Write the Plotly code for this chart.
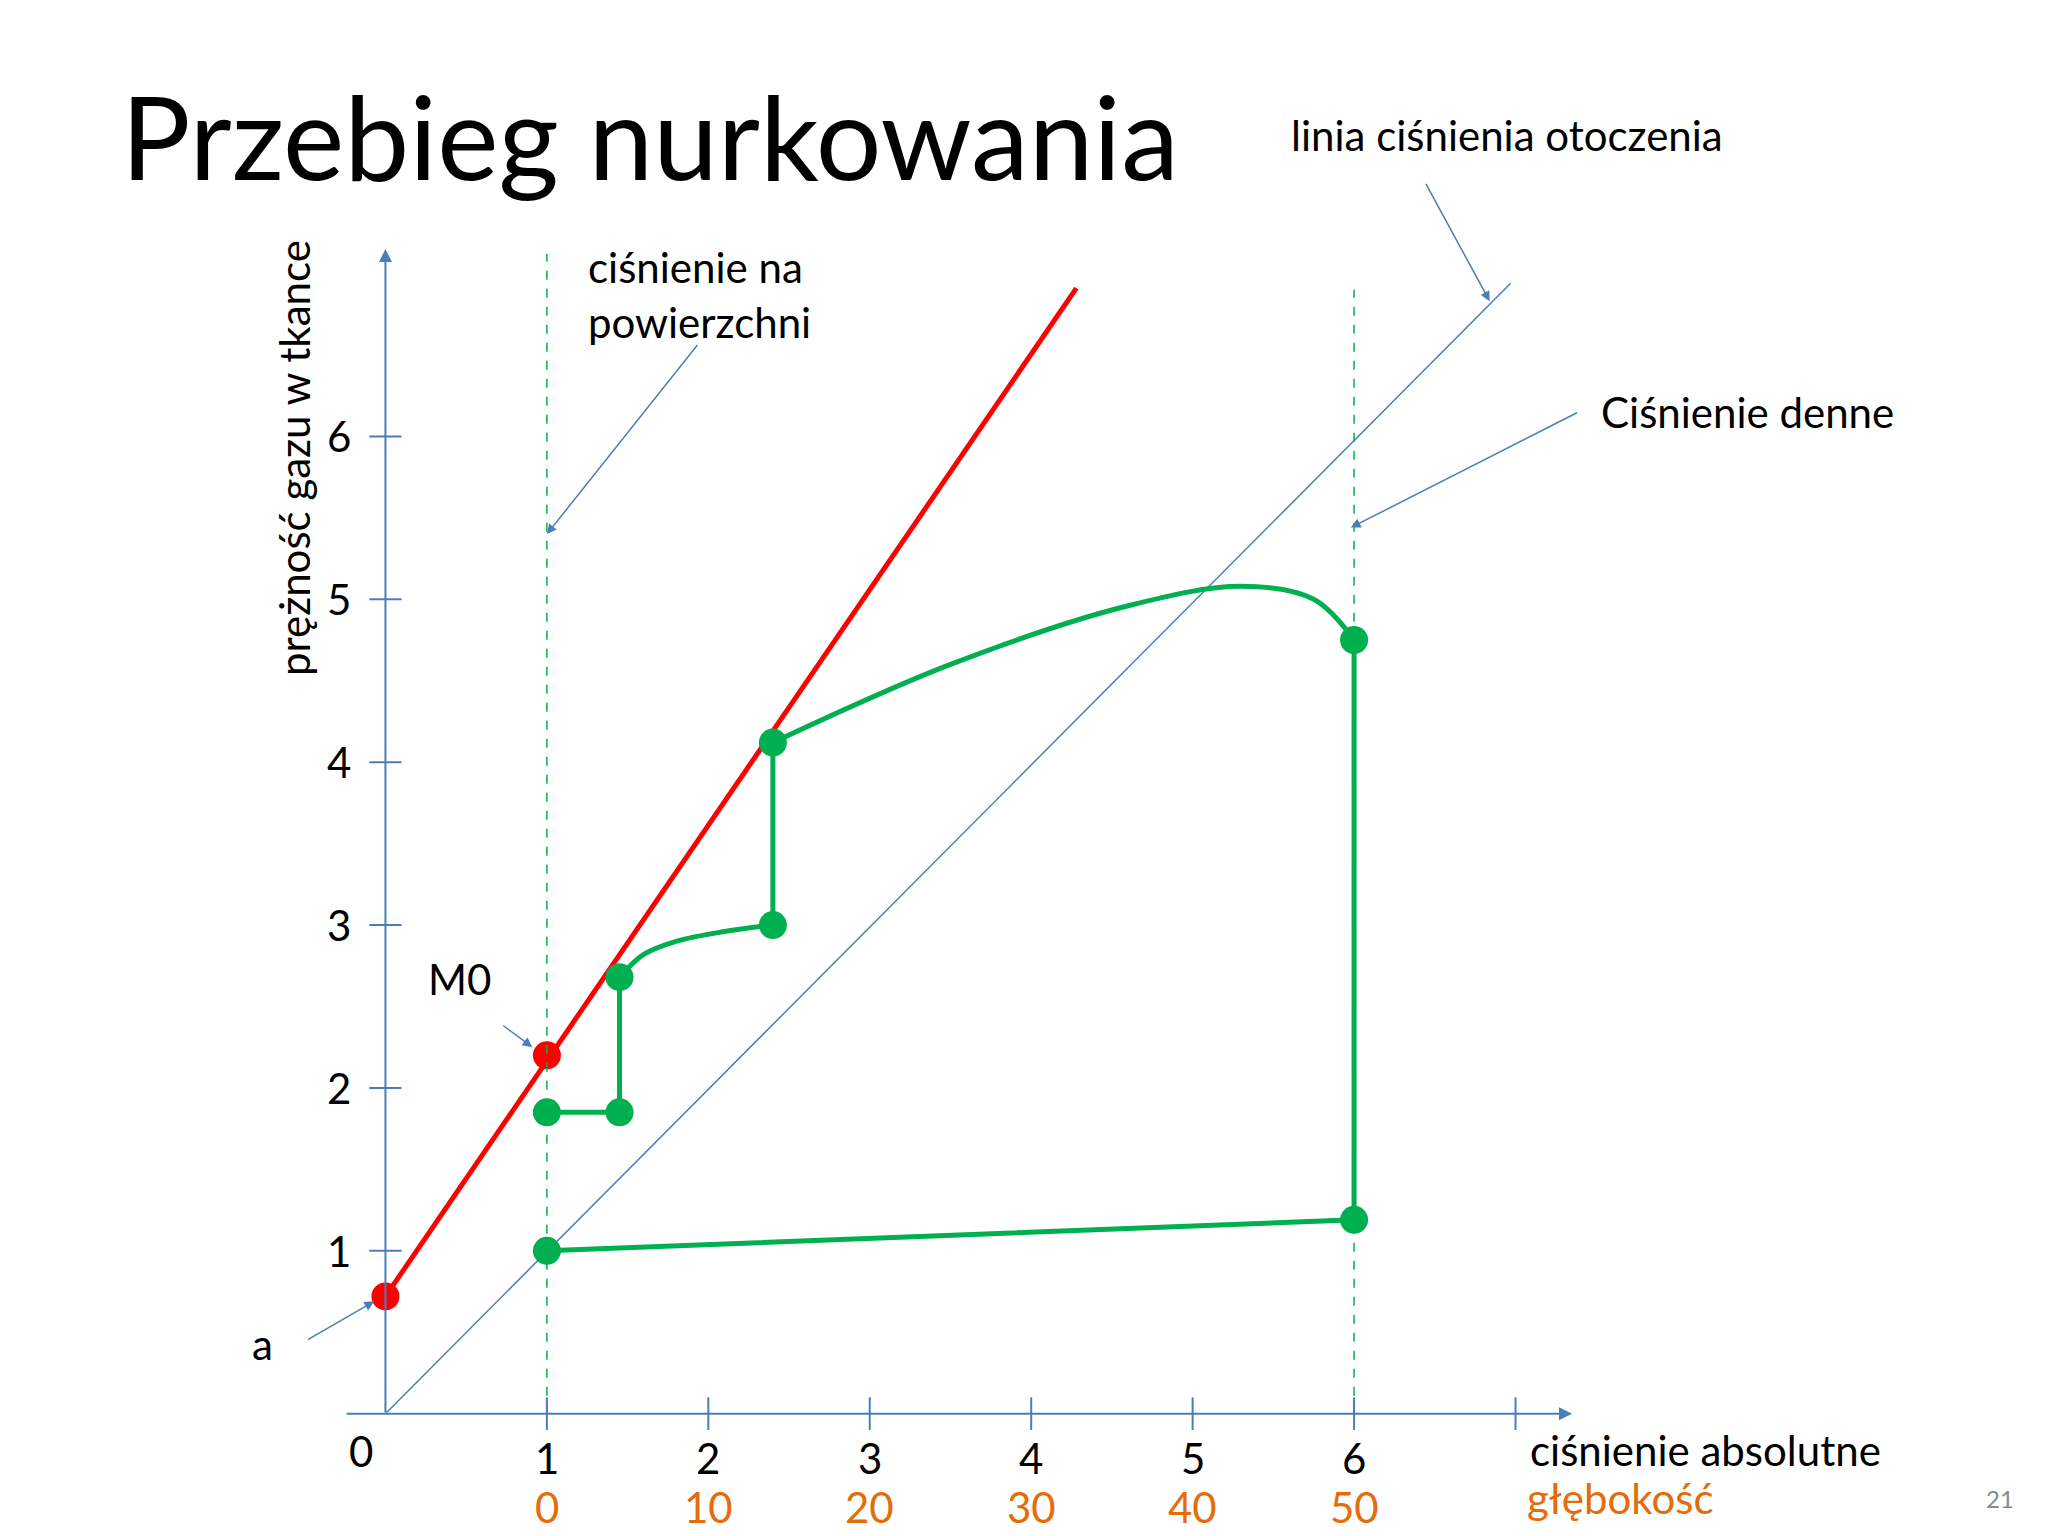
import plotly.graph_objects as go

# red M-value line
red_x = [0, 4.28]
red_y = [0.72, 6.91]
red_pts_x = [0, 1]
red_pts_y = [0.72, 2.2]

# ambient pressure line
amb_x = [0, 6.97]
amb_y = [0, 6.94]

# dive profile (tissue tension)
seg1_x = [1, 6, 6]
seg1_y = [1, 1.19, 4.75]
curve1_x = [6, 5.75, 5.3, 4.6, 3.5, 2.4]
curve1_y = [4.75, 5.0, 5.08, 4.96, 4.6, 4.12]
seg2_x = [2.4, 2.4]
seg2_y = [4.12, 3.0]
curve2_x = [2.4, 2.1, 1.8, 1.6, 1.45]
curve2_y = [3.0, 2.96, 2.9, 2.82, 2.68]
seg3_x = [1.45, 1.45, 1.0]
seg3_y = [2.68, 1.85, 1.85]
green_pts_x = [1, 6, 6, 2.4, 2.4, 1.45, 1.45, 1]
green_pts_y = [1, 1.19, 4.75, 4.12, 3.0, 2.68, 1.85, 1.85]

ticks = [1, 2, 3, 4, 5, 6]
depths = ["0", "10", "20", "30", "40", "50"]

BLUE = "#4a7ebb"
GREEN = "#00b050"
RED = "#ff0000"
ORANGE = "#e46c0a"
FONT = "Lato"

fig = go.Figure()
fig.add_trace(go.Scatter(x=amb_x, y=amb_y, mode="lines", line=dict(color=BLUE, width=1.5)))
fig.add_trace(go.Scatter(x=red_x, y=red_y, mode="lines", line=dict(color=RED, width=5)))
for xs, ys, sh in [(seg1_x, seg1_y, "linear"), (curve1_x, curve1_y, "spline"),
                   (seg2_x, seg2_y, "linear"), (curve2_x, curve2_y, "spline"),
                   (seg3_x, seg3_y, "linear")]:
    fig.add_trace(go.Scatter(x=xs, y=ys, mode="lines", line=dict(color=GREEN, width=5, shape=sh)))
fig.add_trace(go.Scatter(x=green_pts_x, y=green_pts_y, mode="markers", marker=dict(color=GREEN, size=28)))
fig.add_trace(go.Scatter(x=red_pts_x, y=red_pts_y, mode="markers", marker=dict(color=RED, size=28)))

# dashed verticals
for xv, top in [(1, 7.12), (6, 6.9)]:
    fig.add_shape(type="line", x0=xv, x1=xv, y0=0, y1=top, line=dict(color=GREEN, width=1.5, dash="dash"))

# tick marks
for t in ticks + [7]:
    fig.add_shape(type="line", x0=t, x1=t, y0=-0.1, y1=0.1, line=dict(color=BLUE, width=2))
for t in ticks:
    fig.add_shape(type="line", x0=-0.1, x1=0.1, y0=t, y1=t, line=dict(color=BLUE, width=2))

ann = []
def arrow(x0, y0, x1, y1, w=1.5):
    ann.append(dict(x=x1, y=y1, ax=x0, ay=y0, xref="x", yref="y", axref="x", ayref="y",
                    text="", showarrow=True, arrowhead=2, arrowsize=1.3, arrowwidth=w, arrowcolor=BLUE))
def txt(x, y, s, size=42, color="black", xanchor="left", **kw):
    ann.append(dict(x=x, y=y, xref="x", yref="y", text=s, showarrow=False, xanchor=xanchor,
                    font=dict(family=FONT, size=size, color=color), **kw))

arrow(-0.25, 0, 7.35, 0, 2)
arrow(0, 0, 0, 7.15, 2)
for t, d in zip(ticks, depths):
    txt(t, -0.27, str(t), xanchor="center")
    txt(t, -0.57, d, color=ORANGE, xanchor="center")
    txt(-0.2, t, str(t), xanchor="right")
txt(-0.15, -0.23, "0", xanchor="center")
txt(-1.65, 7.85, "Przebieg nurkowania", size=116)
txt(1.24, 6.87, "ciśnienie na<br>powierzchni", align="left")
arrow(1.94, 6.57, 1.0, 5.4)
txt(5.6, 7.85, "linia ciśnienia otoczenia")
arrow(6.44, 7.56, 6.84, 6.83)
txt(7.52, 6.15, "Ciśnienie denne")
arrow(7.39, 6.15, 5.98, 5.44)
txt(0.46, 2.67, "M0", xanchor="center")
arrow(0.72, 2.39, 0.91, 2.25)
txt(-0.76, 0.43, "a", xanchor="center")
arrow(-0.49, 0.45, -0.07, 0.69)
txt(7.08, -0.22, "ciśnienie absolutne")
txt(7.06, -0.52, "głębokość", color=ORANGE)
txt(10.0, -0.52, "21", size=24, color="#888888", xanchor="center")
txt(-0.57, 5.87, "prężność gazu w tkance", textangle=-90, xanchor="center")

fig.update_layout(
    width=2048, height=1536, margin=dict(l=0, r=0, t=0, b=0),
    plot_bgcolor="white", paper_bgcolor="white", showlegend=False,
    xaxis=dict(range=[-2.338, 10.348], visible=False),
    yaxis=dict(range=[-0.8, 8.63], visible=False),
    annotations=ann,
)
fig.write_html("out.html")
